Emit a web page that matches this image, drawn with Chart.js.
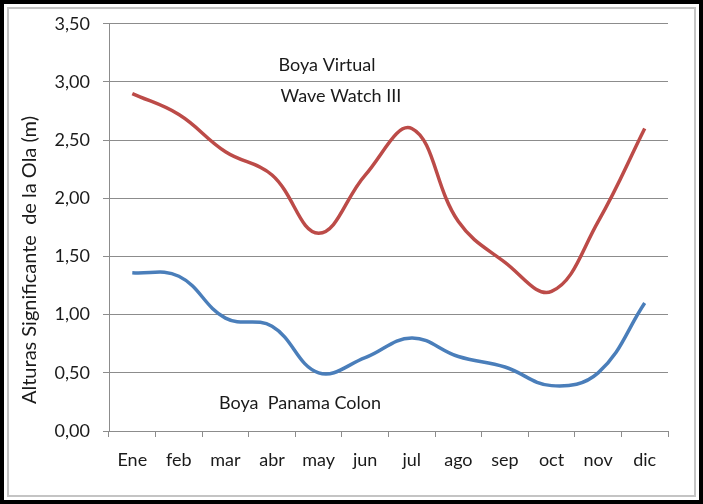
<!DOCTYPE html>
<html>
<head>
<meta charset="utf-8">
<script src="https://cdn.jsdelivr.net/npm/chart.js@4.4.0/dist/chart.umd.min.js"></script>
<style>
    html, body { margin: 0; padding: 0; background: #fff; }
    #wrap { width: 703px; height: 504px; position: relative; }
</style>
</head>
<body>
<div id="wrap"><canvas id="chart" width="703" height="504"></canvas></div>
<script>
// Data
const months = ['Ene', 'feb', 'mar', 'abr', 'may', 'jun', 'jul', 'ago', 'sep', 'oct', 'nov', 'dic'];
const boyaVirtual = [2.90, 2.72, 2.40, 2.20, 1.70, 2.20, 2.60, 1.80, 1.45, 1.20, 1.80, 2.60];
const boyaPanama = [1.36, 1.33, 0.97, 0.90, 0.50, 0.63, 0.80, 0.64, 0.55, 0.39, 0.50, 1.10];
const yTitle = 'Alturas Significante  de la Ola (m)';

const FONT = 'Lato, "Open Sans", sans-serif';

// Frame, axis title and the free text labels
const decorPlugin = {
    id: 'decor',
    beforeDraw(chart) {
        const ctx = chart.ctx;
        ctx.save();
        ctx.fillStyle = '#fff';
        ctx.fillRect(0, 0, chart.width, chart.height);
        ctx.restore();
    },
    afterDraw(chart) {
        const ctx = chart.ctx;
        ctx.save();
        // outer black frame
        ctx.strokeStyle = '#000';
        ctx.lineWidth = 4;
        ctx.strokeRect(2, 2, chart.width - 4, chart.height - 4);
        // inner grey frame
        ctx.strokeStyle = '#c4c4c4';
        ctx.lineWidth = 2;
        ctx.strokeRect(8, 8, chart.width - 16, chart.height - 16);

        ctx.fillStyle = '#1a1a1a';
        ctx.font = '18px ' + FONT;
        ctx.textAlign = 'center';
        ctx.textBaseline = 'middle';
        ctx.fillText('Boya Virtual', 327, 65);
        ctx.fillText('Wave Watch III', 341, 96);
        ctx.fillText('Boya  Panama Colon', 300, 403);

        // rotated y axis title
        ctx.font = '20px ' + FONT;
        ctx.translate(30, 260);
        ctx.rotate(-Math.PI / 2);
        ctx.fillText(yTitle, 0, 0);
        ctx.restore();
    }
};

new Chart(document.getElementById('chart'), {
    type: 'line',
    data: {
        labels: months,
        datasets: [
            {
                label: 'Boya Virtual Wave Watch III',
                data: boyaVirtual,
                borderColor: '#bc4b48',
                borderWidth: 3.5,
                pointRadius: 0,
                tension: 0.4,
                fill: false
            },
            {
                label: 'Boya Panama Colon',
                data: boyaPanama,
                borderColor: '#4a7eba',
                borderWidth: 3.5,
                pointRadius: 0,
                tension: 0.4,
                fill: false
            }
        ]
    },
    options: {
        responsive: false,
        animation: false,
        layout: { padding: { left: 14, top: 19, right: 35, bottom: 0 } },
        plugins: {
            legend: { display: false },
            tooltip: { enabled: false }
        },
        scales: {
            x: {
                offset: true,
                afterFit(scale) { scale.height = 73; },
                grid: {
                    offset: true,
                    drawOnChartArea: false,
                    tickLength: 6,
                    color: '#8c8c8c'
                },
                border: { color: '#8c8c8c' },
                ticks: {
                    padding: 12,
                    color: '#1a1a1a',
                    font: { family: FONT, size: 18 }
                }
            },
            y: {
                min: 0,
                max: 3.5,
                afterFit(scale) { scale.width = 95; },
                grid: {
                    color: '#8c8c8c',
                    tickLength: 6
                },
                border: { color: '#8c8c8c' },
                ticks: {
                    stepSize: 0.5,
                    padding: 13,
                    color: '#1a1a1a',
                    font: { family: FONT, size: 18 },
                    callback: (v) => v.toFixed(2).replace('.', ',')
                }
            }
        }
    },
    plugins: [decorPlugin]
});
</script>
</body>
</html>
